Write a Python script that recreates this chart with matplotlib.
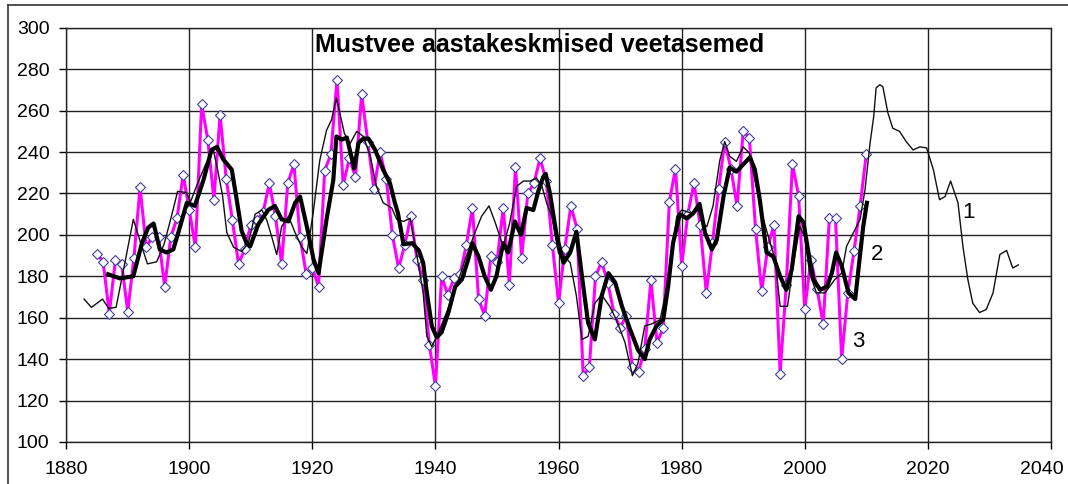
"""
Mustvee annual mean water levels - observed, smoothed and model curve.
"""

import matplotlib
matplotlib.use("Agg")
import matplotlib.pyplot as plt
import matplotlib.transforms as mtransforms
from matplotlib.lines import Line2D

#  Series 3: annual observed levels (magenta, diamonds)
obs_years = list(range(1885, 2011))
obs_vals = [
    191, 187, 162, 188, 186, 163, 189, 223, 194, 199,   # 1885-1894
    199, 175, 199, 208, 229, 212, 194, 263, 246, 217,   # 1895-1904
    258, 227, 207, 186, 193, 205, 207, 211, 225, 209,   # 1905-1914
    186, 225, 234, 199, 181, 184, 175, 231, 239, 275,   # 1915-1924
    224, 237, 228, 268, 245, 222, 240, 227, 200, 184,   # 1925-1934
    195, 209, 188, 178, 147, 127, 180, 171, 179, 181,   # 1935-1944
    195, 213, 169, 161, 190, 187, 213, 176, 233, 189,   # 1945-1954
    220, 225, 237, 226, 195, 167, 193, 214, 203, 132,   # 1955-1964
    136, 180, 187, 177, 162, 155, 161, 136, 134, 145,   # 1965-1974
    178, 148, 155, 216, 232, 185, 210, 225, 205, 172,   # 1975-1984
    196, 222, 245, 232, 214, 250, 247, 203, 173, 194,   # 1985-1994
    205, 133, 176, 234, 219, 164, 188, 174, 157, 208,   # 1995-2004
    208, 140, 172, 192, 214, 239,                       # 2005-2010
]

#  Series 1: model curve incl. forecast (thin black)
model_years = [
    1882.9, 1884.1, 1885.9, 1886.9, 1888.1, 1889.5, 1890.9, 1892.0, 1893.2, 1894.7,
    1895.9, 1897.1, 1898.1, 1899.5, 1900.2, 1901.5, 1902.8, 1903.9, 1904.5, 1905.4,
    1906.1, 1907.2, 1908.5, 1909.6, 1910.7, 1911.8, 1912.6, 1913.4, 1914.2, 1915.0,
    1916.1, 1917.2, 1918.3, 1919.1, 1920.1, 1921.2, 1922.3, 1923.1, 1923.9, 1924.6,
    1925.2, 1926.1, 1927.2, 1928.3, 1929.4, 1930.4, 1931.5, 1932.9, 1933.7, 1934.8,
    1935.9, 1937.0, 1938.0, 1938.6, 1939.4, 1940.5, 1941.8, 1943.4, 1944.8, 1946.4,
    1947.5, 1948.7, 1949.7, 1951.0, 1952.0, 1953.2, 1954.3, 1955.4, 1956.4, 1957.3,
    1958.1, 1958.9, 1960.0, 1961.0, 1961.9, 1962.9, 1963.8, 1964.8, 1965.9, 1967.0,
    1968.3, 1969.4, 1970.8, 1972.0, 1972.9, 1974.0, 1975.1, 1976.5, 1977.3, 1978.4,
    1979.2, 1980.0, 1981.6, 1982.7, 1983.4, 1984.1, 1985.1, 1986.2, 1987.0, 1987.8,
    1988.9, 1990.0, 1991.0, 1991.9, 1993.0, 1994.1, 1995.2, 1996.0, 1997.2, 1998.1,
    1999.2, 2000.0, 2000.8, 2001.9, 2003.3, 2004.9, 2006.0, 2006.8, 2007.9, 2009.0,
    2009.8, 2010.6, 2011.2, 2011.6, 2012.2, 2012.7, 2013.5, 2014.3, 2015.4, 2016.5,
    2017.6, 2018.7, 2019.8, 2020.9, 2021.9, 2022.8, 2023.7, 2024.9, 2025.7, 2026.5,
    2027.3, 2028.4, 2029.5, 2030.6, 2031.7, 2032.8, 2033.8, 2034.7,
]
model_vals = [
    169, 165, 169, 164.5, 165, 186, 207.5, 197, 186, 187,
    195.5, 209, 221, 220.5, 216, 226, 235, 241, 233, 219,
    201, 194, 192, 196, 210, 212, 207, 199, 190.5, 204,
    209, 201, 194, 191, 210, 236, 250.5, 255.5, 266, 257,
    249, 244, 250, 247.5, 238, 223.5, 215.5, 213, 207.5, 206.5,
    208, 189.5, 172, 151, 146, 153, 162.5, 175, 188, 201,
    209, 214, 206, 194.5, 205, 223.5, 226, 226, 227.5, 223.5,
    215, 209, 191, 189.5, 186.5, 170.5, 149.5, 151, 167, 171,
    165.5, 159, 148, 132, 138, 156, 157, 159, 170.5, 191,
    209, 212, 210.5, 212, 205, 204, 214, 236, 245, 238,
    235.5, 242.5, 239.5, 226.5, 210.5, 199, 188, 165.5, 165.5, 185,
    204, 199, 181.5, 172, 172, 178.5, 181.5, 194.5, 201, 207.5,
    222, 244, 257, 271, 272.5, 271.5, 259, 251.5, 250, 245,
    241, 242.5, 242, 231.5, 217, 218.5, 226, 215.5, 194.5, 178.5,
    167, 162.5, 164, 172, 190.5, 192.5, 184, 185.5,
]

#  Series 2: smoothed levels (thick black)
smooth_years = [
    1886.8, 1888.7, 1890.9, 1892.3, 1893.3, 1894.2, 1895.2, 1896.3, 1897.4, 1898.5,
    1899.6, 1900.9, 1902.3, 1903.6, 1904.5, 1905.5, 1906.9, 1907.7, 1908.5, 1909.3,
    1909.9, 1911.2, 1912.8, 1913.9, 1915.0, 1916.1, 1917.2, 1918.0, 1919.1, 1920.2,
    1921.0, 1922.3, 1923.4, 1923.9, 1924.8, 1925.6, 1926.8, 1927.5, 1928.3, 1929.1,
    1930.2, 1931.5, 1932.6, 1933.4, 1933.9, 1934.8, 1936.2, 1937.3, 1938.0, 1938.6,
    1939.4, 1940.2, 1941.0, 1942.1, 1943.2, 1944.3, 1945.3, 1946.0, 1947.0, 1948.0,
    1949.0, 1949.9, 1951.0, 1951.8, 1952.9, 1953.9, 1954.8, 1955.9, 1956.7, 1957.5,
    1957.9, 1958.6, 1959.7, 1960.8, 1961.9, 1962.9, 1963.8, 1964.8, 1965.9, 1967.0,
    1968.1, 1969.2, 1970.3, 1971.6, 1972.9, 1974.0, 1974.8, 1975.9, 1977.0, 1977.8,
    1978.6, 1979.7, 1980.8, 1981.9, 1982.9, 1983.8, 1984.9, 1985.7, 1986.8, 1987.8,
    1988.9, 1990.0, 1991.1, 1991.9, 1992.7, 1993.8, 1994.9, 1996.0, 1997.0, 1997.9,
    1999.0, 1999.8, 2000.6, 2001.4, 2002.5, 2003.6, 2004.4, 2005.1, 2006.0, 2007.1,
    2008.2, 2008.9, 2009.5, 2010.1,
]
smooth_vals = [
    181, 179, 180, 196, 203.5, 205.5, 193, 191.5, 193, 204,
    215.5, 214, 226.5, 241, 242.5, 236.5, 231.5, 217, 202, 196,
    194.5, 205, 212, 214, 207.5, 206.5, 215.5, 218.5, 204, 188,
    181.5, 207.5, 226.5, 247.5, 246, 247, 232, 244.5, 246.5, 246.5,
    241, 231.5, 225, 215.5, 210.5, 195.5, 196, 192.5, 186.5, 172,
    156, 150.5, 153, 162.5, 175, 178.5, 188, 196, 189.5, 180,
    173.5, 180, 196, 191.5, 206.5, 200, 213, 212, 221, 228,
    229.5, 220, 199.5, 186.5, 191.5, 201.5, 180, 157.5, 149.5, 170.5,
    181.5, 177, 165.5, 154.5, 144.5, 140, 149.5, 156, 159, 175,
    196, 210, 208, 210.5, 215, 201, 193, 197.5, 218.5, 232.5,
    230.5, 234, 237.5, 231.5, 217, 191.5, 189.5, 180, 173.5, 183.5,
    209, 206, 191.5, 178.5, 173.5, 175, 181.5, 191.5, 185, 172,
    169, 188, 204, 215.5,
]

TITLE = "Mustvee aastakeskmised veetasemed"
X_TICKS = list(range(1880, 2041, 20))
Y_TICKS = list(range(100, 301, 20))

plt.rcParams["font.family"] = ["Liberation Sans", "DejaVu Sans"]

fig = plt.figure(figsize=(10.68, 4.84), dpi=100)
ax = fig.add_axes([0.062, 0.0868, 0.922, 0.8558])

#  Lines
ax.plot(obs_years, obs_vals, color="#FF00FF", linewidth=2.2, marker="D",
        markersize=5, markerfacecolor="white", markeredgecolor="#4040A0",
        markeredgewidth=0.8, zorder=3)
ax.plot(model_years, model_vals, color="#111111", linewidth=1.0, zorder=4)
ax.plot(smooth_years, smooth_vals, color="black", linewidth=3.0, zorder=5)

#  Curve numbers
ax.text(2026.6, 211, "1", fontsize=16, ha="center", va="center", zorder=6)
ax.text(2011.7, 190.5, "2", fontsize=16, ha="center", va="center", zorder=6)
ax.text(2008.7, 148.5, "3", fontsize=16, ha="center", va="center", zorder=6)

ax.text(1957, 291.5, TITLE, fontsize=18, fontweight="bold",
        ha="center", va="center", zorder=6)

#  Axes and grid
ax.set_xlim(1880, 2040)
ax.set_ylim(100, 300)
ax.set_xticks(X_TICKS)
ax.set_yticks(Y_TICKS)
ax.grid(True, color="#222222", linewidth=1.0)
ax.set_axisbelow(True)
for s in ax.spines.values():
    s.set_color("#222222")
    s.set_linewidth(1.0)
ax.tick_params(axis="y", direction="out", length=5, width=1, pad=7, labelsize=14)
ax.tick_params(axis="x", direction="out", length=5, width=1, pad=9, labelsize=14)

# last x label sits on the figure edge - nudge it left a bit
last_lbl = ax.get_xticklabels()[-1]
last_lbl.set_transform(last_lbl.get_transform()
                       + mtransforms.ScaledTranslation(-0.09, 0, fig.dpi_scale_trans))

#  Outer chart frame (left and top edges)
fig.add_artist(Line2D([8 / 1068, 8 / 1068], [0, 1 - 5 / 484],
                      color="#333333", linewidth=1.2))
fig.add_artist(Line2D([8 / 1068, 1], [1 - 5 / 484, 1 - 5 / 484],
                      color="#333333", linewidth=1.2))

plt.savefig("out.png", dpi=100)
print("Saved: out.png")
